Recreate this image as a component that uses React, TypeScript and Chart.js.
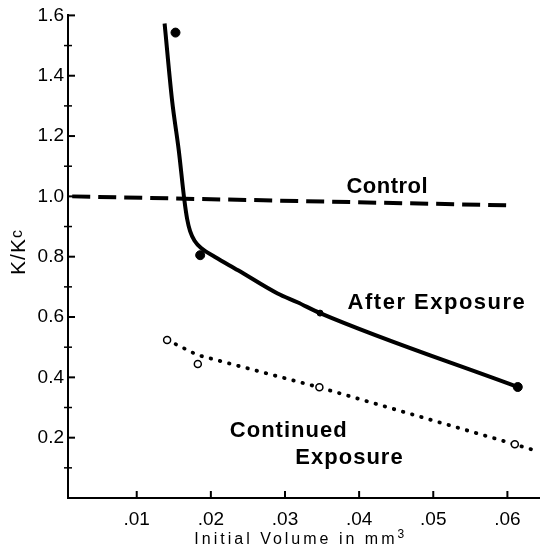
import React, { useEffect, useRef } from "react";
import { Chart, registerables } from "chart.js";

Chart.register(...registerables);

// ---- data ----
const xTickValues = [0.01, 0.02, 0.03, 0.04, 0.05, 0.06];
const xTickLabels = [".01", ".02", ".03", ".04", ".05", ".06"];
const yTickValues = [0.2, 0.4, 0.6, 0.8, 1.0, 1.2, 1.4, 1.6];
const yTickLabels = ["0.2", "0.4", "0.6", "0.8", "1.0", "1.2", "1.4", "1.6"];
const yMinorValues = [0.1, 0.3, 0.5, 0.7, 0.9, 1.1, 1.3, 1.5];

// After Exposure: smooth fitted curve
const afterCurveX = [0.01376, 0.01477, 0.01567, 0.01643, 0.0168, 0.0172, 0.0178, 0.01877, 0.02056, 0.02367, 0.0290, 0.03167, 0.03473, 0.0614];
const afterCurveY = [1.573, 1.318, 1.153, 0.987, 0.925, 0.885, 0.853, 0.827, 0.799, 0.755, 0.678, 0.649, 0.613, 0.368];
// After Exposure: measured points (filled)
const afterObsX = [0.01523, 0.01856, 0.03473, 0.0614];
const afterObsY = [1.543, 0.805, 0.613, 0.368];

// Control: dashed line
const controlX = [0.0013, 0.0606];
const controlY = [1.0, 0.97];

// Continued Exposure: dotted line and open points
const contLineX = [0.0141, 0.0182, 0.0346, 0.061, 0.0643];
const contLineY = [0.524, 0.474, 0.367, 0.178, 0.153];
const contObsX = [0.0141, 0.01824, 0.03464, 0.061];
const contObsY = [0.524, 0.444, 0.367, 0.178];

// annotation labels (data coordinates)
const labelTexts = ["Control", "After Exposure", "Continued", "Exposure"];
const labelX = [0.0438, 0.0505, 0.0305, 0.0387];
const labelY = [1.03, 0.646, 0.222, 0.1325];

const xTitle = "Initial Volume in mm";
const yTitle = "K/K";

const FONT = "'Liberation Sans', Arial, sans-serif";

const zip = (xs: number[], ys: number[]) => xs.map((x, i) => ({ x, y: ys[i] }));

const decorPlugin = {
  id: "decor",
  afterDatasetsDraw(chart: any) {
    const ctx = chart.ctx as CanvasRenderingContext2D;
    const xs = chart.scales.x;
    const ys = chart.scales.y;
    const area = chart.chartArea;
    ctx.save();
    ctx.strokeStyle = "#000";
    ctx.fillStyle = "#000";
    ctx.lineCap = "butt";
    // y major ticks
    ctx.lineWidth = 2;
    yTickValues.forEach((v) => {
      const p = ys.getPixelForValue(v);
      ctx.beginPath();
      ctx.moveTo(area.left - 1, p);
      ctx.lineTo(area.left + 7, p);
      ctx.stroke();
    });
    // y minor ticks (crossing)
    ctx.lineWidth = 1.5;
    yMinorValues.forEach((v) => {
      const p = ys.getPixelForValue(v);
      ctx.beginPath();
      ctx.moveTo(area.left - 4, p);
      ctx.lineTo(area.left + 4, p);
      ctx.stroke();
    });
    // x major ticks (inside)
    ctx.lineWidth = 2;
    xTickValues.forEach((v) => {
      const p = xs.getPixelForValue(v);
      ctx.beginPath();
      ctx.moveTo(p, area.bottom + 1);
      ctx.lineTo(p, area.bottom - 7);
      ctx.stroke();
    });

    // annotations
    ctx.font = `bold 22px ${FONT}`;
    ctx.textAlign = "center";
    ctx.textBaseline = "middle";
    labelTexts.forEach((t, i) => {
      (ctx as any).letterSpacing = i === 0 ? "0.5px" : i === 1 ? "1.5px" : "1px";
      ctx.fillText(t, xs.getPixelForValue(labelX[i]), ys.getPixelForValue(labelY[i]));
    });

    // x title with superscript 3
    (ctx as any).letterSpacing = "3px";
    ctx.font = `16px ${FONT}`;
    ctx.textAlign = "left";
    ctx.textBaseline = "alphabetic";
    const w1 = ctx.measureText(xTitle).width;
    ctx.font = `12px ${FONT}`;
    const w2 = ctx.measureText("3").width;
    const cx = (area.left + area.right) / 2 - 3;
    const start = cx - (w1 + w2) / 2;
    ctx.font = `16px ${FONT}`;
    ctx.fillText(xTitle, start, 544);
    ctx.font = `12px ${FONT}`;
    ctx.fillText("3", start + w1, 538);

    // y title K/Kc rotated
    (ctx as any).letterSpacing = "1px";
    ctx.translate(18, 252);
    ctx.rotate(-Math.PI / 2);
    ctx.font = `21px ${FONT}`;
    const k1 = ctx.measureText(yTitle).width;
    ctx.font = `16px ${FONT}`;
    const k2 = ctx.measureText("c").width;
    const s = -(k1 + k2) / 2;
    ctx.font = `21px ${FONT}`;
    ctx.fillText(yTitle, s, 7);
    ctx.font = `16px ${FONT}`;
    ctx.fillText("c", s + k1, 4);
    ctx.restore();
  },
};

export default function App() {
  const ref = useRef<HTMLCanvasElement | null>(null);
  useEffect(() => {
    document.body.style.margin = "0";
    const canvas = ref.current!;
    const chart = new Chart(canvas, {
      type: "scatter",
      data: {
        datasets: [
          {
            label: "Continued obs",
            data: zip(contObsX, contObsY),
            pointRadius: 3.5,
            pointBorderWidth: 1.5,
            pointBackgroundColor: "#fff",
            pointBorderColor: "#000",
            showLine: false,
          },
          {
            label: "After obs",
            data: zip(afterObsX, afterObsY),
            pointRadius: [4.5, 4.5, 3, 4.5],
            pointBackgroundColor: "#000",
            pointBorderColor: "#000",
            showLine: false,
          },
          {
            label: "After Exposure",
            data: zip(afterCurveX, afterCurveY),
            showLine: true,
            pointRadius: 0,
            borderColor: "#000",
            borderWidth: 4,
            borderJoinStyle: "round",
            cubicInterpolationMode: "monotone",
          },
          {
            label: "Control",
            data: zip(controlX, controlY),
            showLine: true,
            pointRadius: 0,
            borderColor: "#000",
            borderWidth: 4,
            borderDash: [18, 8],
          },
          {
            label: "Continued Exposure",
            data: zip(contLineX, contLineY),
            showLine: true,
            pointRadius: 0,
            borderColor: "#000",
            borderWidth: 3.8,
            borderDash: [0.5, 9],
            borderCapStyle: "round",
          },
        ],
      } as any,
      options: {
        responsive: false,
        animation: false,
        devicePixelRatio: 1,
        layout: { padding: { top: 15, left: 0, right: 0, bottom: 0 } },
        plugins: { legend: { display: false }, tooltip: { enabled: false } },
        scales: {
          x: {
            type: "linear",
            min: 0.00073,
            max: 0.06433,
            grid: { display: false, drawTicks: false },
            border: { display: true, color: "#000", width: 2 },
            afterBuildTicks: (scale: any) => {
              scale.ticks = xTickValues.map((v) => ({ value: v }));
            },
            afterFit: (scale: any) => {
              scale.height = 52;
            },
            ticks: {
              color: "#000",
              padding: 10,
              font: { family: FONT, size: 19 },
              callback: (v: any) => {
                const i = xTickValues.findIndex((t) => Math.abs(t - v) < 1e-9);
                return i >= 0 ? xTickLabels[i] : "";
              },
            },
          },
          y: {
            type: "linear",
            min: 0,
            max: 1.6,
            grid: { display: false, drawTicks: false },
            border: { display: true, color: "#000", width: 2 },
            afterBuildTicks: (scale: any) => {
              scale.ticks = yTickValues.map((v) => ({ value: v }));
            },
            afterFit: (scale: any) => {
              scale.width = 68;
            },
            ticks: {
              color: "#000",
              padding: 4,
              font: { family: FONT, size: 19 },
              callback: (v: any) => {
                const i = yTickValues.findIndex((t) => Math.abs(t - v) < 1e-9);
                return i >= 0 ? yTickLabels[i] : "";
              },
            },
          },
        },
      } as any,
      plugins: [decorPlugin],
    });
    return () => chart.destroy();
  }, []);
  return (
    <div style={{ position: "absolute", left: 0, top: 0, width: 545, height: 550, background: "#fff" }}>
      <canvas ref={ref} width={545} height={550} />
    </div>
  );
}
